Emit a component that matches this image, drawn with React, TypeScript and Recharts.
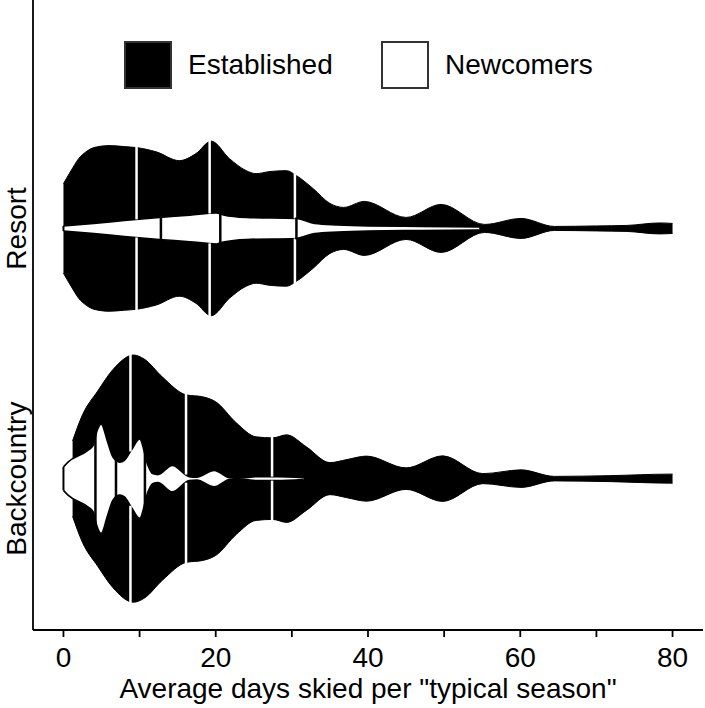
import { ComposedChart, Area, XAxis, YAxis, ReferenceLine, Label } from "recharts";

const FONT = "'Liberation Sans', Arial, Helvetica, sans-serif";

// categories (y positions 1 and 2)
const groups = ["Backcountry", "Resort"];
const dayTicks = [0, 10, 20, 30, 40, 50, 60, 70, 80];
const labeledDays = [0, 20, 40, 60, 80];

// Resort - established skiers (half width of the violin, in category units)
const resortEstDays = [0, 1, 2, 3, 4, 6, 8, 9.6, 12.2, 15.2, 17.4, 19.4, 21.8, 24, 25.3, 27, 29.3, 30.6, 32.8, 35, 36.8, 39.5, 45, 49.6, 55.3, 60.1, 64.5, 70, 74, 78.3, 80];
const resortEstWidth = [0.179, 0.231, 0.279, 0.307, 0.323, 0.331, 0.327, 0.323, 0.306, 0.271, 0.299, 0.349, 0.279, 0.231, 0.219, 0.227, 0.231, 0.211, 0.159, 0.1, 0.084, 0.108, 0.044, 0.096, 0.016, 0.04, 0.008, 0.01, 0.012, 0.022, 0.02];
const resortEstQuantiles = [9.6, 19.2, 30.4];

// Resort - newcomers
const resortNewDays = [0, 4, 8, 12.6, 16.6, 20.1, 21, 24, 30.6, 33, 36, 40, 47, 54.6];
const resortNewWidth = [0.01, 0.02, 0.032, 0.044, 0.053, 0.062, 0.054, 0.044, 0.04, 0.02, 0.014, 0.01, 0.008, 0.006];
const resortNewQuantiles = [12.8, 20.6, 30.6];

// Backcountry - established skiers
const backEstDays = [1.2, 2.5, 4.5, 6.5, 9.2, 10.6, 13, 16.1, 18.3, 20, 22.7, 25.3, 27.5, 29.3, 31.9, 35, 37.2, 39.8, 45, 49.8, 55.1, 60.1, 64.5, 71.9, 79.6, 80];
const backEstWidth = [0.151, 0.255, 0.35, 0.436, 0.494, 0.478, 0.406, 0.335, 0.327, 0.307, 0.223, 0.167, 0.163, 0.175, 0.127, 0.064, 0.076, 0.09, 0.043, 0.091, 0.02, 0.035, 0.009, 0.012, 0.018, 0.018];
const backEstQuantiles = [8.8, 16.1, 27.4];

// Backcountry - newcomers
const backNewDays = [0, 0.6, 3.2, 3.9, 4.4, 4.95, 5.8, 6.5, 7.4, 8.0, 8.9, 10.0, 11.1, 11.7, 12.4, 14.3, 16.5, 17.5, 19.8, 21.8, 23, 25.5, 28, 31.5];
const backNewWidth = [0.047, 0.066, 0.113, 0.133, 0.19, 0.219, 0.146, 0.086, 0.066, 0.073, 0.113, 0.159, 0.053, 0.02, 0.016, 0.053, 0.008, 0.006, 0.033, 0.004, 0.002, 0.008, 0.008, 0.004];
const backNewQuantiles = [4.2, 6.9, 10.7];

const legendItems = [
  { name: "Established", fill: "#000" },
  { name: "Newcomers", fill: "#fff" },
];

interface Violin {
  key: string;
  group: number;
  days: number[];
  widths: number[];
  quantiles: number[];
}

const established: Violin[] = [
  { key: "resort-est", group: 2, days: resortEstDays, widths: resortEstWidth, quantiles: resortEstQuantiles },
  { key: "back-est", group: 1, days: backEstDays, widths: backEstWidth, quantiles: backEstQuantiles },
];
const newcomers: Violin[] = [
  { key: "resort-new", group: 2, days: resortNewDays, widths: resortNewWidth, quantiles: resortNewQuantiles },
  { key: "back-new", group: 1, days: backNewDays, widths: backNewWidth, quantiles: backNewQuantiles },
];

const toBand = (v: Violin) =>
  v.days.map((d, i) => ({ day: d, band: [v.group - v.widths[i], v.group + v.widths[i]] }));

// width of a violin at a given day: "max" of the two neighbours or a linear read
function widthAt(v: Violin | undefined, d: number, mode: "max" | "lerp") {
  if (!v) return 0;
  const { days, widths } = v;
  if (d < days[0] || d > days[days.length - 1]) return 0;
  for (let i = 0; i < days.length - 1; i++) {
    if (d >= days[i] && d <= days[i + 1]) {
      if (mode === "max") return Math.max(widths[i], widths[i + 1]);
      const t = (d - days[i]) / (days[i + 1] - days[i]);
      return widths[i] + t * (widths[i + 1] - widths[i]);
    }
  }
  return widths[widths.length - 1];
}

const CategoryTick = (props: any) => {
  const { x, y, payload } = props;
  const name = groups[payload.value - 1];
  return (
    <text
      x={x}
      y={y}
      transform={`rotate(-90 ${x} ${y})`}
      textAnchor="middle"
      fill="#000"
      fontSize={28}
      fontFamily={FONT}
    >
      {name}
    </text>
  );
};

export default function App() {
  return (
    <div style={{ position: "absolute", left: 0, top: 0, width: 705, height: 708, background: "#fff" }}>
      <ComposedChart width={705} height={708} margin={{ top: 0, right: 2, bottom: 0, left: 0 }}>
        <XAxis
          dataKey="day"
          type="number"
          domain={[-4, 84]}
          ticks={dayTicks}
          tickFormatter={(v: number) => (labeledDays.includes(v) ? String(v) : "")}
          height={78}
          tickSize={7}
          tickMargin={10}
          interval={0}
          stroke="#000"
          strokeWidth={1.8}
          tick={{ fill: "#000", fontSize: 28, fontFamily: FONT }}
          allowDataOverflow
        >
          <Label
            value={'Average days skied per "typical season"'}
            position="insideBottom"
            offset={10}
            fill="#000"
            fontSize={28}
            fontFamily={FONT}
          />
        </XAxis>
        <YAxis
          type="number"
          domain={[0.395, 2.913]}
          ticks={[1, 2]}
          width={33}
          tickLine={false}
          tickSize={0}
          tickMargin={7}
          stroke="#000"
          strokeWidth={1.8}
          tick={<CategoryTick />}
          allowDataOverflow
        />

        {established.map((v) => (
          <Area
            key={v.key}
            data={toBand(v)}
            dataKey="band"
            type="monotone"
            fill="#000"
            fillOpacity={1}
            stroke="#000"
            strokeWidth={1}
            dot={false}
            activeDot={false}
            isAnimationActive={false}
          />
        ))}

        {established.flatMap((v) => {
          const inner = newcomers.find((n) => n.group === v.group);
          return v.quantiles.flatMap((q) => {
            const outer = widthAt(v, q, "max") + 0.01;
            const hole = widthAt(inner, q, "lerp");
            return [
              <ReferenceLine
                key={`${v.key}-${q}-up`}
                segment={[{ x: q, y: v.group + hole }, { x: q, y: v.group + outer }]}
                stroke="#fff"
                strokeWidth={2.5}
              />,
              <ReferenceLine
                key={`${v.key}-${q}-down`}
                segment={[{ x: q, y: v.group - outer }, { x: q, y: v.group - hole }]}
                stroke="#fff"
                strokeWidth={2.5}
              />,
            ];
          });
        })}

        {newcomers.map((v) => (
          <Area
            key={v.key}
            data={toBand(v)}
            dataKey="band"
            type="monotone"
            fill="#fff"
            fillOpacity={1}
            stroke="#000"
            strokeWidth={1.6}
            dot={false}
            activeDot={false}
            isAnimationActive={false}
          />
        ))}

        {newcomers.flatMap((v) => {
          const edges = [v.days[0], ...v.quantiles];
          return edges.map((q, i) => {
            const w = i === 0 ? v.widths[0] : widthAt(v, q, "max");
            return (
              <ReferenceLine
                key={`${v.key}-${i}`}
                segment={[{ x: q, y: v.group - w }, { x: q, y: v.group + w }]}
                stroke="#000"
                strokeWidth={i === 0 ? 2 : 2.5}
              />
            );
          });
        })}
      </ComposedChart>

      <div style={{ position: "absolute", left: 124, top: 41, display: "flex", fontFamily: FONT, fontSize: 28 }}>
        {legendItems.map((item) => (
          <div key={item.name} style={{ display: "flex", alignItems: "center", width: 257 }}>
            <div
              style={{
                width: 48,
                height: 48,
                boxSizing: "border-box",
                border: "2.5px solid #333",
                background: item.fill,
              }}
            />
            <span style={{ marginLeft: 16, color: "#000" }}>{item.name}</span>
          </div>
        ))}
      </div>
    </div>
  );
}
